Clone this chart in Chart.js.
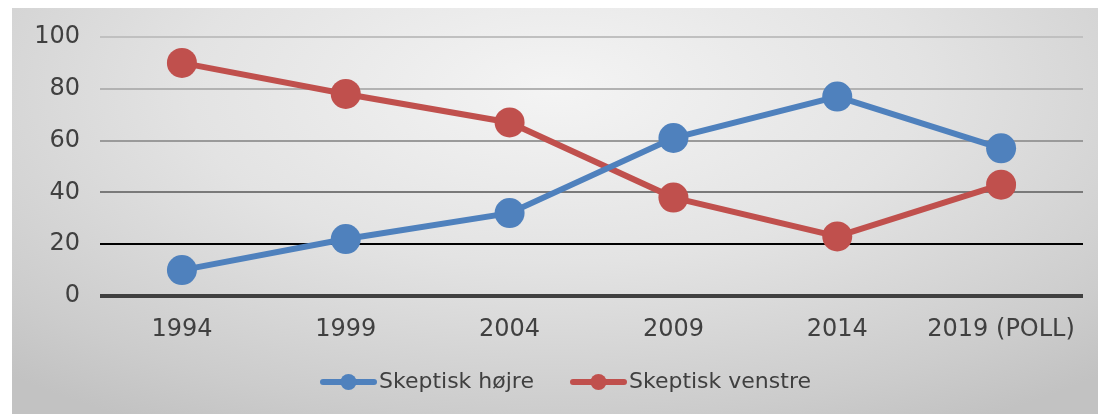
<!DOCTYPE html>
<html>
<head>
<meta charset="utf-8">
<script src="https://cdn.jsdelivr.net/npm/chart.js@4"></script>
<style>
    html, body { margin: 0; padding: 0; background: #fff; }
    #wrap {
        position: absolute; left: 12px; top: 8px; width: 1086px; height: 406px;
        background: radial-gradient(ellipse 75% 95% at 50% 20%, #f4f4f4 0%, #e3e3e3 45%, #cccccc 85%, #c2c2c2 100%);
    }
</style>
</head>
<body>
<div id="wrap"><canvas id="chart" width="1086" height="406"></canvas></div>
<script>
const years = ['1994', '1999', '2004', '2009', '2014', '2019 (POLL)'];
const skeptiskHojre = [10, 22, 32, 61, 77, 57];
const skeptiskVenstre = [90, 78, 67, 38, 23, 43];
const yTicks = [0, 20, 40, 60, 80, 100];

const blue = '#4f81bd';
const red = '#c0504d';
const textColor = '#404040';

// legend marker: line with a dot, sat at the right of the image so it hugs the label
function legendMarker(color) {
    const c = document.createElement('canvas');
    c.width = 92; c.height = 20;
    const ctx = c.getContext('2d');
    ctx.strokeStyle = color;
    ctx.lineWidth = 6;
    ctx.lineCap = 'round';
    ctx.beginPath();
    ctx.moveTo(38, 10); ctx.lineTo(89, 10);
    ctx.stroke();
    ctx.fillStyle = color;
    ctx.beginPath();
    ctx.arc(63.5, 10, 8, 0, Math.PI * 2);
    ctx.fill();
    return c;
}

const gridColors = {0: '#404040', 20: '#000000', 40: '#7a7a7a', 60: '#9a9a9a', 80: '#b2b2b2', 100: '#c0c0c0'};

new Chart(document.getElementById('chart').getContext('2d'), {
    type: 'line',
    data: {
        labels: years,
        datasets: [
            {
                label: 'Skeptisk højre',
                data: skeptiskHojre,
                borderColor: blue,
                backgroundColor: blue,
                borderWidth: 6,
                pointRadius: 15,
                pointHoverRadius: 15,
                pointBorderWidth: 0,
                tension: 0
            },
            {
                label: 'Skeptisk venstre',
                data: skeptiskVenstre,
                borderColor: red,
                backgroundColor: red,
                borderWidth: 6,
                pointRadius: 15,
                pointHoverRadius: 15,
                pointBorderWidth: 0,
                tension: 0
            }
        ]
    },
    options: {
        responsive: false,
        animation: false,
        layout: { padding: { left: 10, right: 15, top: 29, bottom: 11 } },
        plugins: {
            tooltip: { enabled: false },
            legend: {
                position: 'bottom',
                labels: {
                    usePointStyle: true,
                    pointStyleWidth: 74,
                    padding: 10,
                    color: textColor,
                    font: { family: 'DejaVu Sans', size: 22 },
                    generateLabels: chart => chart.data.datasets.map((ds, i) => ({
                        text: ds.label,
                        pointStyle: legendMarker(ds.borderColor),
                        fillStyle: ds.borderColor,
                        strokeStyle: ds.borderColor,
                        lineWidth: 0,
                        fontColor: textColor,
                        datasetIndex: i,
                        hidden: false
                    }))
                }
            }
        },
        scales: {
            x: {
                offset: true,
                afterFit: s => { s.height = 65; },
                grid: { display: false, drawTicks: false, offset: true },
                border: { display: false },
                ticks: { color: textColor, font: { family: 'DejaVu Sans', size: 24 }, padding: 19, maxRotation: 0 }
            },
            y: {
                min: 0,
                max: 100,
                afterBuildTicks: s => { s.ticks = yTicks.map(v => ({ value: v })); },
                afterFit: s => { s.width = 78; s.paddingTop = 0; s.paddingBottom = 0; },
                border: { display: false },
                grid: {
                    drawTicks: false,
                    color: ctx => gridColors[ctx.tick.value] || '#999',
                    lineWidth: ctx => ctx.tick.value === 0 ? 4 : 2
                },
                ticks: { color: textColor, font: { family: 'DejaVu Sans', size: 24 }, padding: 20 }
            }
        }
    }
});
</script>
</body>
</html>
